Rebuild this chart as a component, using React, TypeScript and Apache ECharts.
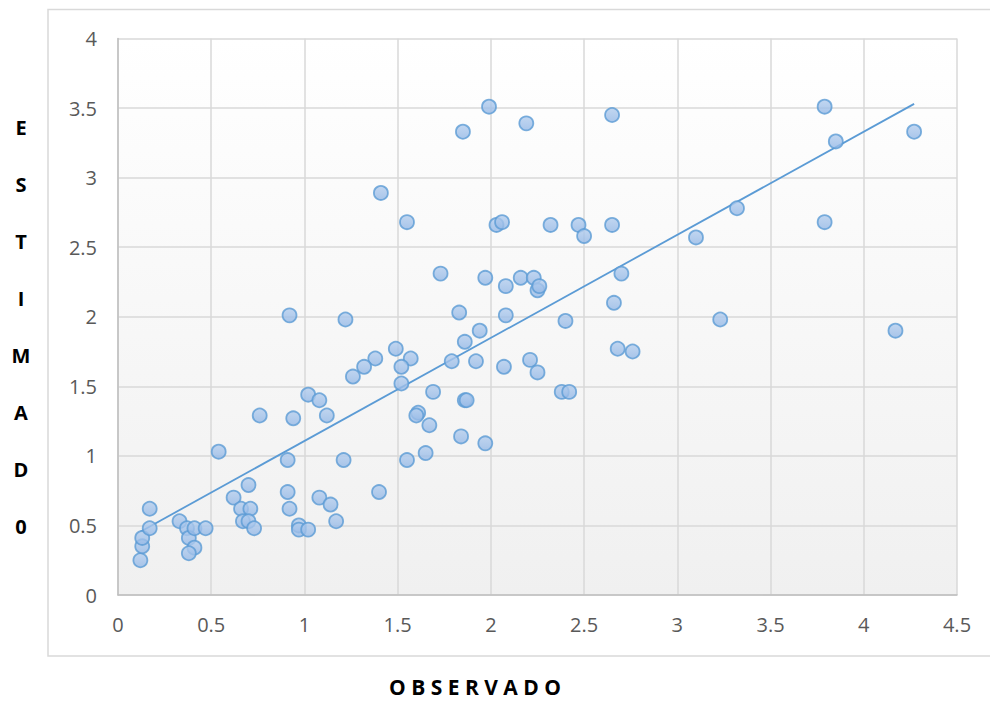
import React, { useEffect, useRef } from "react";
import * as echarts from "echarts";

// Observed values (x) and estimated values (y)
const observado: number[] = [
  0.12, 0.13, 0.13, 0.17, 0.17, 0.33, 0.37, 0.38, 0.41, 0.41, 0.38, 0.47,
  0.54, 0.62, 0.70, 0.66, 0.71, 0.67, 0.70, 0.73, 0.76,
  0.91, 0.91, 0.92, 0.94, 0.97, 0.97, 1.02, 1.02, 1.08, 1.12, 1.08, 1.14, 1.17, 1.21,
  1.26, 1.52, 1.69, 1.86, 1.87, 1.61, 1.60, 1.67, 1.84, 1.97, 1.55, 1.65, 1.40, 2.38, 2.42,
  1.41, 1.55, 1.73, 0.92, 1.22, 1.49, 1.38, 1.57, 1.32, 1.52,
  1.99, 1.85, 2.19, 2.65, 2.03, 2.06, 2.32, 2.47, 2.50, 2.65, 3.10,
  1.97, 2.16, 2.23, 2.08, 2.25, 2.26, 2.70, 2.66, 1.83, 2.08, 2.40, 1.94, 1.86, 1.79, 1.92, 2.07, 2.21, 2.25, 2.68, 2.76, 3.23,
  3.79, 3.85, 4.27, 3.32, 3.79, 4.17,
];
const estimado: number[] = [
  0.25, 0.35, 0.41, 0.48, 0.62, 0.53, 0.48, 0.41, 0.48, 0.34, 0.30, 0.48,
  1.03, 0.70, 0.79, 0.62, 0.62, 0.53, 0.53, 0.48, 1.29,
  0.97, 0.74, 0.62, 1.27, 0.50, 0.47, 0.47, 1.44, 1.40, 1.29, 0.70, 0.65, 0.53, 0.97,
  1.57, 1.52, 1.46, 1.40, 1.40, 1.31, 1.29, 1.22, 1.14, 1.09, 0.97, 1.02, 0.74, 1.46, 1.46,
  2.89, 2.68, 2.31, 2.01, 1.98, 1.77, 1.70, 1.70, 1.64, 1.64,
  3.51, 3.33, 3.39, 3.45, 2.66, 2.68, 2.66, 2.66, 2.58, 2.66, 2.57,
  2.28, 2.28, 2.28, 2.22, 2.19, 2.22, 2.31, 2.10, 2.03, 2.01, 1.97, 1.90, 1.82, 1.68, 1.68, 1.64, 1.69, 1.60, 1.77, 1.75, 1.98,
  3.51, 3.26, 3.33, 2.78, 2.68, 1.90,
];

// Linear trendline end points
const trendX: number[] = [0.12, 4.27];
const trendY: number[] = [0.455, 3.53];

const yTitleLetters: string[] = ["E", "S", "T", "I", "M", "A", "D", "0"];
const xTitle = "O B S E R V A D O";

export default function App() {
  const ref = useRef<HTMLDivElement>(null);
  useEffect(() => {
    if (!ref.current) return;
    const chart = echarts.init(ref.current, null, { renderer: "svg" });
    const font = "'Open Sans', 'Liberation Sans', sans-serif";
    const points = observado.map((x, i) => [x, estimado[i]]);
    const trend = trendX.map((x, i) => [x, trendY[i]]);
    chart.setOption({
      animation: false,
      backgroundColor: "#ffffff",
      grid: {
        left: 118,
        top: 38.5,
        right: 33,
        bottom: 107,
        show: true,
        borderWidth: 0,
        backgroundColor: new echarts.graphic.LinearGradient(0, 0, 0, 1, [
          { offset: 0, color: "#ffffff" },
          { offset: 1, color: "#f0f0f0" },
        ]),
      },
      xAxis: {
        type: "value",
        min: 0,
        max: 4.5,
        interval: 0.5,
        axisLine: { show: true, lineStyle: { color: "#bfbfbf", width: 1.5 } },
        axisTick: { show: false },
        splitLine: { show: true, lineStyle: { color: "#d9d9d9", width: 1.5 } },
        axisLabel: { color: "#595959", fontSize: 20, fontFamily: font, margin: 19 },
      },
      yAxis: {
        type: "value",
        min: 0,
        max: 4,
        interval: 0.5,
        axisLine: { show: true, lineStyle: { color: "#bfbfbf", width: 1.5 } },
        axisTick: { show: false },
        splitLine: { show: true, lineStyle: { color: "#d9d9d9", width: 1.5 } },
        axisLabel: { color: "#595959", fontSize: 20, fontFamily: font, margin: 21 },
      },
      graphic: [
        {
          type: "rect",
          shape: { x: 48, y: 9.5, width: 960, height: 646.5 },
          style: { fill: "none", stroke: "#d9d9d9", lineWidth: 1.5 },
          z: -10,
        },
        {
          type: "text",
          x: 21,
          y: 327,
          style: {
            text: yTitleLetters.join("\n"),
            font: `bold 20px ${font}`,
            fill: "#000000",
            align: "center",
            verticalAlign: "middle",
            lineHeight: 57.1,
          },
        },
        {
          type: "text",
          x: 475,
          y: 687,
          style: {
            text: xTitle,
            font: `bold 21px ${font}`,
            fill: "#000000",
            align: "center",
            verticalAlign: "middle",
            lineHeight: 22,
          },
        },
      ],
      series: [
        {
          type: "line",
          data: trend,
          showSymbol: false,
          symbol: "none",
          lineStyle: { color: "#5b9bd5", width: 1.8 },
          z: 2,
        },
        {
          type: "scatter",
          data: points,
          symbol: "circle",
          symbolSize: 14,
          itemStyle: {
            color: new echarts.graphic.LinearGradient(0, 0, 0, 1, [
              { offset: 0, color: "#b3cdee" },
              { offset: 1, color: "#94b8e6" },
            ]),
            borderColor: "#5b9bd5",
            borderWidth: 1.8,
          },
          z: 3,
        },
      ],
    });
    return () => chart.dispose();
  }, []);
  return (
    <div
      ref={ref}
      style={{ position: "absolute", left: 0, top: 0, width: 990, height: 702 }}
    />
  );
}
